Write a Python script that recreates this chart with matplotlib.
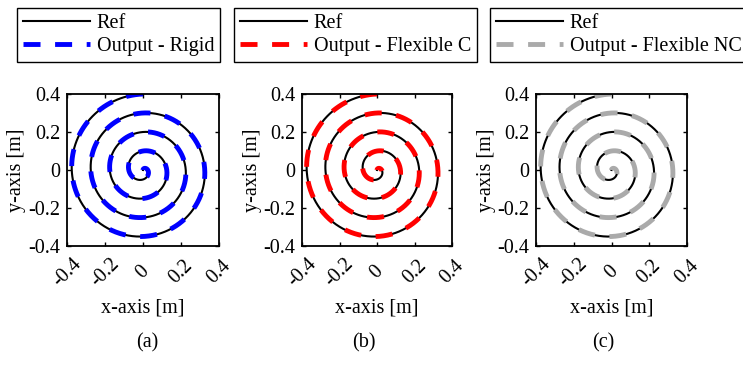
import numpy as np
import matplotlib
matplotlib.use("Agg")
import matplotlib.pyplot as plt

# ---- data ----
panel_captions = ["(a)", "(b)", "(c)"]
ref_label = "Ref"
output_labels = ["Output - Rigid", "Output - Flexible C", "Output - Flexible NC"]
output_colors = ["#0000FF", "#FF0000", "#AAAAAA"]

spiral_outer_radius = 0.4      # m, outer end at (0, 0.4)
spiral_pitch = 0.1             # m per turn
spiral_turns = 4
spiral_start_angle = np.pi / 2

tick_values = [-0.4, -0.2, 0, 0.2, 0.4]
tick_labels = ["-0.4", "-0.2", "0", "0.2", "0.4"]
x_label = "x-axis [m]"
y_label = "y-axis [m]"

# ---- geometry of the reference path (Archimedean spiral) ----
theta = np.linspace(spiral_start_angle, spiral_start_angle + 2 * np.pi * spiral_turns, 2000)
radius = spiral_outer_radius - spiral_pitch * (theta - spiral_start_angle) / (2 * np.pi)
ref_x = radius * np.cos(theta)
ref_y = radius * np.sin(theta)

plt.rcParams["font.family"] = ["Liberation Serif", "DejaVu Serif"]
plt.rcParams["font.size"] = 14.5

W, H = 743, 366
fig = plt.figure(figsize=(W / 100, H / 100), dpi=100)

axes_px = [(67, 219), (302, 452), (536, 687)]
ax_top, ax_bot = 94, 246
legend_px = [17, 234, 490]
caption_px = [147, 364, 603]

for i in range(3):
    l, r = axes_px[i]
    ax = fig.add_axes([l / W, 1 - ax_bot / H, (r - l) / W, (ax_bot - ax_top) / H])
    h_ref, = ax.plot(ref_x, ref_y, color="black", lw=1.5, label=ref_label)
    h_out, = ax.plot(ref_x, ref_y, color=output_colors[i], lw=3.5,
                     dashes=(3.5, 3.0), dash_capstyle="butt", label=output_labels[i])
    ax.set_xlim(-0.4, 0.4)
    ax.set_ylim(-0.4, 0.4)
    ax.set_xticks(tick_values)
    ax.set_yticks(tick_values)
    ax.set_xticklabels(tick_labels, rotation=45, ha="center", va="center")
    ax.set_yticklabels(tick_labels)
    ax.tick_params(direction="in", length=3, width=1, top=True, right=True)
    ax.tick_params(axis="x", pad=19)
    ax.tick_params(axis="y", pad=5)
    for s in ax.spines.values():
        s.set_linewidth(1.3)
    ax.set_xlabel(x_label, va="center")
    ax.xaxis.set_label_coords(0.5, -62 / 152)
    ax.set_ylabel(y_label, va="center")
    ax.yaxis.set_label_coords(-50 / 152, 0.5)

    leg = fig.legend(handles=[h_ref, h_out], loc="upper left",
                     bbox_to_anchor=(legend_px[i] / W, 1 - 8 / H),
                     borderaxespad=0, fancybox=False, edgecolor="black", framealpha=1,
                     handlelength=3.3, handletextpad=0.35, borderpad=0.3,
                     labelspacing=0.2, fontsize=14.5)
    leg.get_frame().set_linewidth(1.0)

    fig.text(caption_px[i] / W, 1 - 343 / H, panel_captions[i], ha="center", va="center")

fig.savefig("out.png", dpi=100)
